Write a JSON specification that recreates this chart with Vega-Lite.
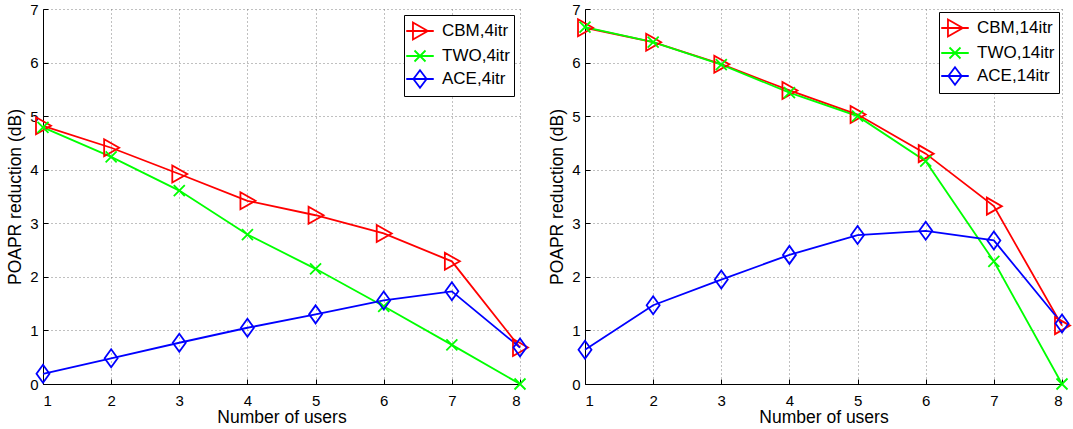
{
  "$schema": "https://vega.github.io/schema/vega-lite/v6.json",
  "padding": {"left": 6, "top": 2, "right": 2, "bottom": 2},
  "spacing": 16,
  "config": {
    "font": "Liberation Sans",
    "view": {"stroke": null},
    "axis": {
      "domainColor": "#000000",
      "domainWidth": 1,
      "tickColor": "#000000",
      "tickSize": -5,
      "labelColor": "#000000",
      "labelFontSize": 15,
      "titleFontSize": 17.5,
      "titleFontWeight": "normal",
      "titleColor": "#000000",
      "grid": true,
      "gridColor": "#808080",
      "gridDash": [1, 3],
      "gridOpacity": 1,
      "gridWidth": 1
    },
    "legend": {
      "orient": "top-right",
      "offset": 5,
      "padding": 4,
      "strokeColor": "#000000",
      "fillColor": "#ffffff",
      "labelFontSize": 17,
      "labelColor": "#000000",
      "symbolSize": 484,
      "symbolStrokeWidth": 1.8,
      "rowPadding": 0,
      "labelOffset": 10
    }
  },
  "data": {
    "values": [
      {"panel": "a", "series": "CBM,4itr", "n": 1, "v": 4.82},
      {"panel": "a", "series": "CBM,4itr", "n": 2, "v": 4.41},
      {"panel": "a", "series": "CBM,4itr", "n": 3, "v": 3.92},
      {"panel": "a", "series": "CBM,4itr", "n": 4, "v": 3.42},
      {"panel": "a", "series": "CBM,4itr", "n": 5, "v": 3.15},
      {"panel": "a", "series": "CBM,4itr", "n": 6, "v": 2.81},
      {"panel": "a", "series": "CBM,4itr", "n": 7, "v": 2.29},
      {"panel": "a", "series": "CBM,4itr", "n": 8, "v": 0.68},
      {"panel": "a", "series": "TWO,4itr", "n": 1, "v": 4.79},
      {"panel": "a", "series": "TWO,4itr", "n": 2, "v": 4.24},
      {"panel": "a", "series": "TWO,4itr", "n": 3, "v": 3.61},
      {"panel": "a", "series": "TWO,4itr", "n": 4, "v": 2.79},
      {"panel": "a", "series": "TWO,4itr", "n": 5, "v": 2.15},
      {"panel": "a", "series": "TWO,4itr", "n": 6, "v": 1.45},
      {"panel": "a", "series": "TWO,4itr", "n": 7, "v": 0.73},
      {"panel": "a", "series": "TWO,4itr", "n": 8, "v": 0.0},
      {"panel": "a", "series": "ACE,4itr", "n": 1, "v": 0.19},
      {"panel": "a", "series": "ACE,4itr", "n": 2, "v": 0.48},
      {"panel": "a", "series": "ACE,4itr", "n": 3, "v": 0.77},
      {"panel": "a", "series": "ACE,4itr", "n": 4, "v": 1.05},
      {"panel": "a", "series": "ACE,4itr", "n": 5, "v": 1.30},
      {"panel": "a", "series": "ACE,4itr", "n": 6, "v": 1.56},
      {"panel": "a", "series": "ACE,4itr", "n": 7, "v": 1.73},
      {"panel": "a", "series": "ACE,4itr", "n": 8, "v": 0.68},
      {"panel": "b", "series": "CBM,14itr", "n": 1, "v": 6.65},
      {"panel": "b", "series": "CBM,14itr", "n": 2, "v": 6.38},
      {"panel": "b", "series": "CBM,14itr", "n": 3, "v": 5.97},
      {"panel": "b", "series": "CBM,14itr", "n": 4, "v": 5.48},
      {"panel": "b", "series": "CBM,14itr", "n": 5, "v": 5.03},
      {"panel": "b", "series": "CBM,14itr", "n": 6, "v": 4.30},
      {"panel": "b", "series": "CBM,14itr", "n": 7, "v": 3.32},
      {"panel": "b", "series": "CBM,14itr", "n": 8, "v": 1.09},
      {"panel": "b", "series": "TWO,14itr", "n": 1, "v": 6.66},
      {"panel": "b", "series": "TWO,14itr", "n": 2, "v": 6.38},
      {"panel": "b", "series": "TWO,14itr", "n": 3, "v": 5.96},
      {"panel": "b", "series": "TWO,14itr", "n": 4, "v": 5.44},
      {"panel": "b", "series": "TWO,14itr", "n": 5, "v": 5.00},
      {"panel": "b", "series": "TWO,14itr", "n": 6, "v": 4.16},
      {"panel": "b", "series": "TWO,14itr", "n": 7, "v": 2.29},
      {"panel": "b", "series": "TWO,14itr", "n": 8, "v": 0.0},
      {"panel": "b", "series": "ACE,14itr", "n": 1, "v": 0.64},
      {"panel": "b", "series": "ACE,14itr", "n": 2, "v": 1.47},
      {"panel": "b", "series": "ACE,14itr", "n": 3, "v": 1.95},
      {"panel": "b", "series": "ACE,14itr", "n": 4, "v": 2.41},
      {"panel": "b", "series": "ACE,14itr", "n": 5, "v": 2.78},
      {"panel": "b", "series": "ACE,14itr", "n": 6, "v": 2.86},
      {"panel": "b", "series": "ACE,14itr", "n": 7, "v": 2.68},
      {"panel": "b", "series": "ACE,14itr", "n": 8, "v": 1.13}
    ]
  },
  "hconcat": [
    {
      "width": 477,
      "height": 375,
      "transform": [{"filter": "datum.panel === 'a'"}],
      "encoding": {
        "x": {"field": "n", "type": "quantitative", "scale": {"domain": [1, 8], "nice": false, "zero": false},
              "axis": {"values": [1, 2, 3, 4, 5, 6, 7, 8], "title": "Number of users", "labelPadding": 14, "titlePadding": 0}},
        "y": {"field": "v", "type": "quantitative", "scale": {"domain": [0, 7], "nice": false},
              "axis": {"values": [0, 1, 2, 3, 4, 5, 6, 7], "title": "POAPR reduction (dB)", "labelPadding": 10, "titlePadding": 5}},
        "color": {"field": "series", "type": "nominal",
                  "scale": {"domain": ["CBM,4itr", "TWO,4itr", "ACE,4itr"], "range": ["#ff0000", "#00ff00", "#0000ff"]},
                  "legend": {
                    "title": null,
                    "offset": 6,
                    "encode": {"symbols": {"update": {
                      "shape": {"signal": "indexof(datum.value,'CBM')>=0 ? 'M-1.25,0L1.25,0M-0.64,-0.77L0.71,0L-0.64,0.77Z' : (indexof(datum.value,'TWO')>=0 ? 'M-1.25,0L1.25,0M-0.5,-0.5L0.5,0.5M-0.5,0.5L0.5,-0.5' : 'M-1.25,0L1.25,0M0,-0.8L0.6,0L0,0.8L-0.6,0Z')"}
                    }}}
                  }}
      },
      "layer": [
        {"mark": {"type": "line", "strokeWidth": 1.8}},
        {"transform": [{"filter": "indexof(datum.series,'CBM') === 0"}],
         "mark": {"type": "point", "filled": false, "strokeWidth": 1.8, "size": 400, "opacity": 1, "shape": "M-0.7,-0.85L0.8,0L-0.7,0.85Z"}},
        {"transform": [{"filter": "indexof(datum.series,'TWO') === 0"}],
         "mark": {"type": "point", "filled": false, "strokeWidth": 1.8, "size": 400, "opacity": 1, "shape": "M-0.55,-0.55L0.55,0.55M-0.55,0.55L0.55,-0.55"}},
        {"transform": [{"filter": "indexof(datum.series,'ACE') === 0"}],
         "mark": {"type": "point", "filled": false, "strokeWidth": 1.8, "size": 400, "opacity": 1, "shape": "M0,-0.9L0.65,0L0,0.9L-0.65,0Z"}}
      ]
    },
    {
      "width": 477,
      "height": 375,
      "transform": [{"filter": "datum.panel === 'b'"}],
      "encoding": {
        "x": {"field": "n", "type": "quantitative", "scale": {"domain": [1, 8], "nice": false, "zero": false},
              "axis": {"values": [1, 2, 3, 4, 5, 6, 7, 8], "title": "Number of users", "labelPadding": 14, "titlePadding": 0}},
        "y": {"field": "v", "type": "quantitative", "scale": {"domain": [0, 7], "nice": false},
              "axis": {"values": [0, 1, 2, 3, 4, 5, 6, 7], "title": "POAPR reduction (dB)", "labelPadding": 10, "titlePadding": 5}},
        "color": {"field": "series", "type": "nominal",
                  "scale": {"domain": ["CBM,14itr", "TWO,14itr", "ACE,14itr"], "range": ["#ff0000", "#00ff00", "#0000ff"]},
                  "legend": {
                    "title": null,
                    "offset": 3,
                    "encode": {"symbols": {"update": {
                      "shape": {"signal": "indexof(datum.value,'CBM')>=0 ? 'M-1.25,0L1.25,0M-0.64,-0.77L0.71,0L-0.64,0.77Z' : (indexof(datum.value,'TWO')>=0 ? 'M-1.25,0L1.25,0M-0.5,-0.5L0.5,0.5M-0.5,0.5L0.5,-0.5' : 'M-1.25,0L1.25,0M0,-0.8L0.6,0L0,0.8L-0.6,0Z')"}
                    }}}
                  }}
      },
      "layer": [
        {"mark": {"type": "line", "strokeWidth": 1.8}},
        {"transform": [{"filter": "indexof(datum.series,'CBM') === 0"}],
         "mark": {"type": "point", "filled": false, "strokeWidth": 1.8, "size": 400, "opacity": 1, "shape": "M-0.7,-0.85L0.8,0L-0.7,0.85Z"}},
        {"transform": [{"filter": "indexof(datum.series,'TWO') === 0"}],
         "mark": {"type": "point", "filled": false, "strokeWidth": 1.8, "size": 400, "opacity": 1, "shape": "M-0.55,-0.55L0.55,0.55M-0.55,0.55L0.55,-0.55"}},
        {"transform": [{"filter": "indexof(datum.series,'ACE') === 0"}],
         "mark": {"type": "point", "filled": false, "strokeWidth": 1.8, "size": 400, "opacity": 1, "shape": "M0,-0.9L0.65,0L0,0.9L-0.65,0Z"}}
      ]
    }
  ],
  "resolve": {"scale": {"color": "independent"}, "legend": {"color": "independent"}}
}
